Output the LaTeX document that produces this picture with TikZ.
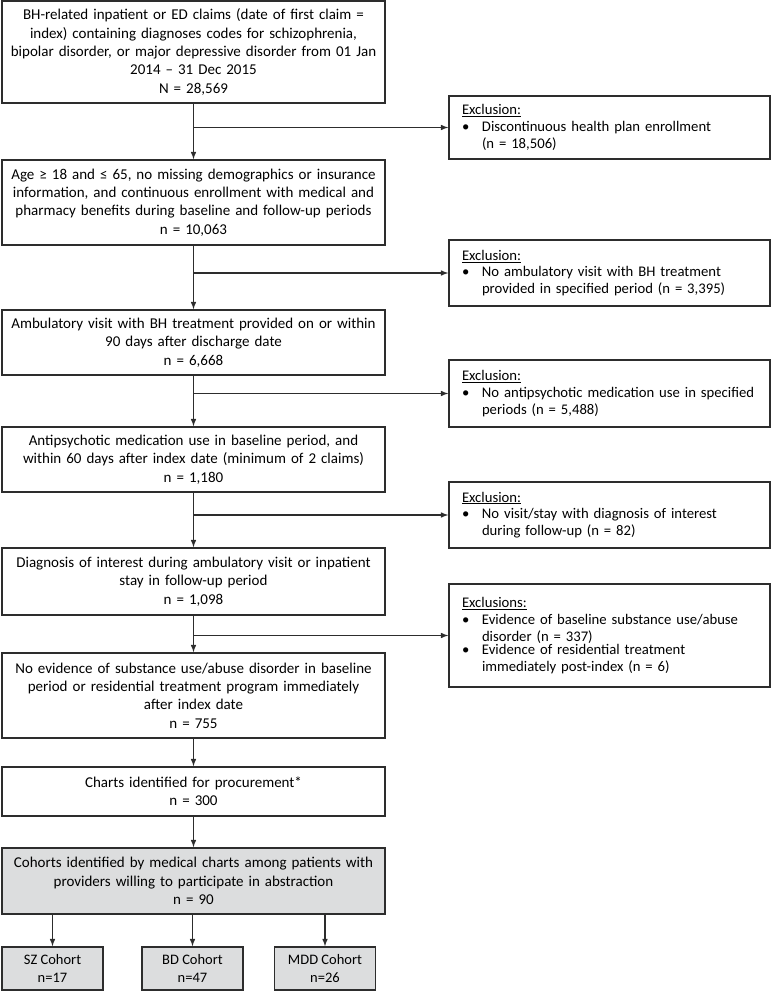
\documentclass[tikz,border=0pt]{standalone}
\usepackage{fontspec}
\setmainfont{Carlito}
\usetikzlibrary{calc}
\definecolor{cohortgray}{RGB}{220,221,222}
\definecolor{linegray}{RGB}{45,45,45}
\newcommand{\exitem}[1]{\makebox[20pt][l]{\textbullet}\parbox[t]{275pt}{#1}}
\tikzset{
  stepbox/.style={draw=linegray,rectangle,text width=371pt,inner xsep=6pt,inner ysep=2pt,align=center,
    font=\fontsize{15}{18.3}\selectfont},
  exbox/.style={draw=linegray,rectangle,text width=295pt,inner xsep=13pt,inner ysep=2pt,align=left,
    font=\fontsize{14.7}{16.7}\selectfont},
  cohortbox/.style={draw=linegray,rectangle,fill=cohortgray,minimum width=101pt,minimum height=43pt,align=center,
    font=\fontsize{14.5}{18}\selectfont},
  every path/.style={line width=1.5pt},
}

\begin{document}
\begin{tikzpicture}[x=1pt,y=-1pt,>=latex]
\useasboundingbox (0,0) rectangle (771,992);

\node [stepbox,minimum height=102pt] (claims) at (193.5,52) {BH-related inpatient or ED claims (date of first claim =\\ index) containing diagnoses codes for schizophrenia,\\ bipolar disorder, or major depressive disorder from 01 Jan\\ 2014 – 31 Dec 2015\\ N = 28,569};
\node [stepbox,minimum height=85pt] (age) at (193.5,202.5) {Age ≥ 18 and ≤ 65, no missing demographics or insurance\\ information, and continuous enrollment with medical and\\ pharmacy benefits during baseline and follow-up periods\\ n = 10,063};
\node [stepbox,minimum height=65pt] (ambulatory) at (193.5,342.5) {Ambulatory visit with BH treatment provided on or within\\ 90 days after discharge date\\ n = 6,668};
\node [stepbox,minimum height=65pt] (antipsych) at (193.5,459.5) {Antipsychotic medication use in baseline period, and\\ within 60 days after index date (minimum of 2 claims)\\ n = 1,180};
\node [stepbox,minimum height=67pt] (diagnosis) at (193.5,581.5) {Diagnosis of interest during ambulatory visit or inpatient\\ stay in follow-up period\\ n = 1,098};
\node [stepbox,minimum height=85pt] (nosubst) at (193.5,695.5) {No evidence of substance use/abuse disorder in baseline\\ period or residential treatment program immediately\\ after index date\\ n = 755};
\node [stepbox,minimum height=49pt] (charts) at (193.5,791.5) {Charts identified for procurement*\\ n = 300};
\node [stepbox,fill=cohortgray,minimum height=66pt] (cohorts) at (193.5,881) {Cohorts identified by medical charts among patients with\\ providers willing to participate in abstraction\\ n = 90};

\node [cohortbox] (sz) at (52.5,968.5) {SZ Cohort\\ n=17};
\node [cohortbox] (bd) at (192.5,968.5) {BD Cohort\\ n=47};
\node [cohortbox] (mdd) at (325,968.5) {MDD Cohort\\ n=26};

\node [exbox,minimum height=63pt] (excl1) at (609.5,127.5) {\underline{Exclusion:}\\ \exitem{Discontinuous health plan enrollment\\ (n = 18,506)}};
\node [exbox,minimum height=66pt] (excl2) at (609.5,273) {\underline{Exclusion:}\\ \exitem{No ambulatory visit with BH treatment\\ provided in specified period (n = 3,395)}};
\node [exbox,minimum height=67pt] (excl3) at (609.5,393.5) {\underline{Exclusion:}\\ \exitem{No antipsychotic medication use in specified\\ periods (n = 5,488)}};
\node [exbox,minimum height=66pt] (excl4) at (609.5,515) {\underline{Exclusion:}\\ \exitem{No visit/stay with diagnosis of interest\\ during follow-up (n = 82)}};
\node [exbox,minimum height=103pt] (excl5) at (609.5,635.5) {\underline{Exclusions:}\\ \exitem{Evidence of baseline substance use/abuse\\ disorder (n = 337)}\\ \exitem{Evidence of residential treatment\\ immediately post-index (n = 6)}};

\draw[->,linegray] (claims.south) -- (age.north);
\draw[->,linegray] (age.south) -- (ambulatory.north);
\draw[->,linegray] (ambulatory.south) -- (antipsych.north);
\draw[->,linegray] (antipsych.south) -- (diagnosis.north);
\draw[->,linegray] (diagnosis.south) -- (nosubst.north);
\draw[->,linegray] (nosubst.south) -- (charts.north);
\draw[->,linegray] (charts.south) -- (cohorts.north);

\draw[->,linegray] (claims.south |- excl1.west) -- (excl1.west);
\draw[->,linegray] (age.south |- excl2.west) -- (excl2.west);
\draw[->,linegray] (ambulatory.south |- excl3.west) -- (excl3.west);
\draw[->,linegray] (antipsych.south |- excl4.west) -- (excl4.west);
\draw[->,linegray] (diagnosis.south |- excl5.west) -- (excl5.west);

\draw[->,linegray] (cohorts.south -| sz.north) -- (sz.north);
\draw[->,linegray] (cohorts.south -| bd.north) -- (bd.north);
\draw[->,linegray] (cohorts.south -| mdd.north) -- (mdd.north);

\end{tikzpicture}
\end{document}
